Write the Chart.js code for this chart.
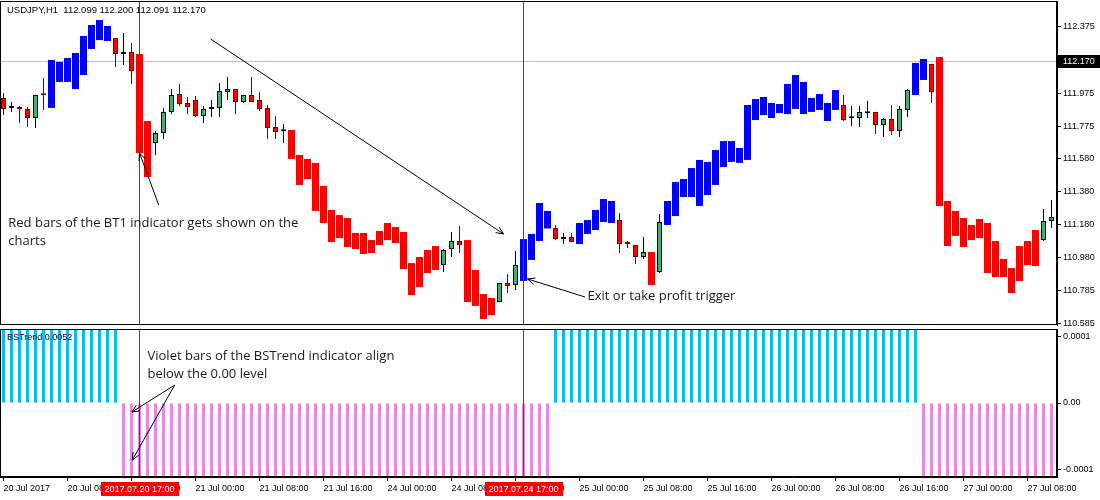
<!DOCTYPE html>
<html>
<head>
<meta charset="utf-8">
<title>USDJPY H1 - BT1 / BSTrend</title>
<script src="https://cdn.jsdelivr.net/npm/chart.js@4.4.1/dist/chart.umd.min.js"></script>
<style>
  html, body { margin: 0; padding: 0; background: #fff; }
  #wrap { position: relative; width: 1100px; height: 500px; }
  #priceBox { position: absolute; left: 0; top: 0; width: 1100px; height: 327px; }
  #trendBox { position: absolute; left: 0; top: 327px; width: 1100px; height: 173px; }
</style>
</head>
<body>
<div id="wrap">
  <div id="priceBox"><canvas id="priceChart"></canvas></div>
  <div id="trendBox"><canvas id="trendChart"></canvas></div>
</div>
<script>
// ---- data (hourly bars, 20 Jul 2017 00:00 -> 27 Jul 2017 11:00, weekend skipped) ----

// c = plain candle, B = blue BT1 bar, R = red BT1 bar
const bt1Kind = [
  "cccccc", "BBBBBBBB", "ccc", "RR", "ccccccccccccccccc", "RRRRRRRRRRRRRRRRRRR",
  "ccc", "RRRR", "ccc", "BBBB", "ccc", "BBBBB", "cccc", "R", "c",
  "BBBBBBBBBBBBBBBBBBBBBB", "ccccccccc", "BB", "c", "RRRRRRRRRRRRR", "cc",
].join("").split("");

const open = [
  111.946, 111.885, 111.892, 111.880, 111.825, 111.965, 111.886, 112.043, 112.043, 112.000,
  112.085, 112.242, 112.296, 112.290, 112.308, 112.212, 112.224, 112.212, 111.807, 111.674,
  111.735, 111.862, 111.970, 111.916, 111.934, 111.837, 111.879, 111.886, 111.982, 112.000,
  111.922, 111.964, 111.934, 111.886, 111.771, 111.746, 111.753, 111.602, 111.578, 111.554,
  111.415, 111.270, 111.239, 111.221, 111.131, 111.131, 111.088, 111.143, 111.191, 111.167,
  111.137, 110.949, 110.986, 111.028, 111.052, 110.937, 111.034, 111.082, 111.088, 110.907,
  110.762, 110.738, 110.714, 110.829, 110.817, 110.841, 110.968, 111.082, 111.158, 111.161,
  111.094, 111.106, 111.064, 111.125, 111.149, 111.197, 111.191, 111.209, 111.065, 111.058,
  110.986, 111.016, 110.895, 111.179, 111.233, 111.348, 111.348, 111.294, 111.360, 111.421,
  111.529, 111.560, 111.554, 111.572, 111.813, 111.843, 111.825, 111.855, 111.849, 111.880,
  111.849, 111.862, 111.874, 111.807, 111.874, 111.904, 111.824, 111.825, 111.854, 111.862,
  111.783, 111.819, 111.747, 111.874, 111.964, 112.055, 112.151, 112.194, 111.324, 111.264,
  111.221, 111.179, 111.215, 111.191, 111.082, 110.974, 110.919, 111.052, 111.082, 111.149,
  111.088, 111.203,
];
const high = [
  111.976, 111.922, 111.898, 111.892, 111.964, 112.067, 112.176, 112.164, 112.188, 112.218,
  112.321, 112.387, 112.417, 112.381, 112.308, 112.339, 112.278, 112.212, 111.807, 111.747,
  111.886, 112.000, 112.031, 111.952, 111.958, 111.898, 111.934, 112.037, 112.073, 112.000,
  111.964, 112.073, 111.982, 111.904, 111.837, 111.789, 111.753, 111.602, 111.578, 111.554,
  111.415, 111.270, 111.239, 111.221, 111.131, 111.131, 111.088, 111.143, 111.191, 111.167,
  111.137, 110.949, 110.986, 111.028, 111.052, 111.034, 111.137, 111.173, 111.088, 110.907,
  110.762, 110.738, 110.829, 110.883, 111.022, 111.094, 111.125, 111.312, 111.264, 111.179,
  111.131, 111.131, 111.191, 111.209, 111.270, 111.336, 111.324, 111.252, 111.082, 111.058,
  111.107, 111.016, 111.245, 111.324, 111.439, 111.457, 111.523, 111.572, 111.560, 111.632,
  111.686, 111.686, 111.644, 111.904, 111.940, 111.952, 111.916, 111.910, 112.031, 112.085,
  112.043, 111.946, 111.970, 111.916, 111.994, 111.964, 111.898, 111.898, 111.928, 111.862,
  111.825, 111.904, 111.898, 112.000, 112.158, 112.182, 112.151, 112.194, 111.324, 111.264,
  111.221, 111.179, 111.215, 111.191, 111.082, 110.974, 110.919, 111.052, 111.082, 111.149,
  111.276, 111.330,
];
const low = [
  111.843, 111.862, 111.795, 111.771, 111.765, 111.874, 111.886, 112.043, 112.043, 112.000,
  112.085, 112.242, 112.296, 112.290, 112.133, 112.145, 112.031, 111.614, 111.469, 111.602,
  111.698, 111.849, 111.898, 111.849, 111.831, 111.795, 111.831, 111.831, 111.934, 111.849,
  111.916, 111.922, 111.868, 111.698, 111.698, 111.674, 111.578, 111.421, 111.457, 111.264,
  111.191, 111.076, 111.100, 111.046, 111.034, 111.004, 111.010, 111.058, 111.088, 111.070,
  110.913, 110.756, 110.804, 110.889, 110.907, 110.895, 110.986, 111.010, 110.714, 110.690,
  110.611, 110.635, 110.714, 110.768, 110.786, 110.841, 110.968, 111.082, 111.158, 111.088,
  111.064, 111.076, 111.064, 111.125, 111.149, 111.197, 111.191, 111.010, 111.040, 110.943,
  110.974, 110.817, 110.889, 111.179, 111.233, 111.348, 111.348, 111.294, 111.360, 111.421,
  111.529, 111.560, 111.554, 111.572, 111.813, 111.843, 111.825, 111.855, 111.849, 111.880,
  111.849, 111.862, 111.874, 111.807, 111.874, 111.807, 111.777, 111.771, 111.825, 111.729,
  111.710, 111.723, 111.710, 111.831, 111.964, 112.055, 111.916, 111.294, 111.052, 111.113,
  111.046, 111.088, 111.100, 110.889, 110.865, 110.865, 110.768, 110.841, 110.937, 110.931,
  111.082, 111.161,
];
const close = [
  111.880, 111.886, 111.880, 111.825, 111.964, 111.963, 112.176, 112.164, 112.188, 112.218,
  112.321, 112.387, 112.417, 112.381, 112.212, 112.224, 112.109, 111.614, 111.469, 111.735,
  111.862, 111.964, 111.910, 111.892, 111.837, 111.880, 111.880, 111.988, 112.000, 111.922,
  111.964, 111.922, 111.880, 111.765, 111.741, 111.747, 111.578, 111.421, 111.457, 111.264,
  111.191, 111.076, 111.100, 111.046, 111.034, 111.004, 111.010, 111.058, 111.088, 111.070,
  110.913, 110.756, 110.804, 110.889, 110.907, 111.028, 111.082, 111.058, 110.714, 110.690,
  110.611, 110.635, 110.829, 110.811, 110.937, 111.094, 111.125, 111.312, 111.264, 111.094,
  111.106, 111.076, 111.191, 111.209, 111.270, 111.336, 111.324, 111.064, 111.064, 110.986,
  111.016, 110.817, 111.197, 111.324, 111.439, 111.457, 111.523, 111.572, 111.560, 111.632,
  111.686, 111.686, 111.644, 111.904, 111.940, 111.952, 111.916, 111.910, 112.031, 112.085,
  112.043, 111.946, 111.970, 111.916, 111.994, 111.813, 111.825, 111.862, 111.855, 111.783,
  111.819, 111.747, 111.880, 111.994, 112.158, 112.182, 111.982, 111.294, 111.052, 111.113,
  111.046, 111.088, 111.100, 110.889, 110.865, 110.865, 110.768, 110.841, 110.937, 110.931,
  111.203, 111.227,
];

// BSTrend histogram (clipped at the panel edges)
const U = 0.000112, D = -0.000112;
const bsTrend = [
  U, U, U, U, U, U, U, U, U, U, U, U, U, U, U, D, D, D, D, D,
  D, D, D, D, D, D, D, D, D, D, D, D, D, D, D, D, D, D, D, D,
  D, D, D, D, D, D, D, D, D, D, D, D, D, D, D, D, D, D, D, D,
  D, D, D, D, D, D, D, D, D, U, U, U, U, U, U, U, U, U, U, U,
  U, U, U, U, U, U, U, U, U, U, U, U, U, U, U, U, U, U, U, U,
  U, U, U, U, U, U, U, U, U, U, U, U, U, U, U, D, D, D, D, D,
  D, D, D, D, D, D, D, D, D, D, D, D,
];

const priceTicks = [112.375, 111.975, 111.775, 111.580, 111.380, 111.180, 110.980, 110.785, 110.585];
const bidPrice = 112.170;
const trendTicks = [0.0001, 0, -0.0001];
const timeTickBars = [0, 8, 16, 24, 32, 40, 48, 56, 64, 72, 80, 88, 96, 104, 112, 120, 128];
const timeTickLabels = [
  "20 Jul 2017", "20 Jul 08:00", "20 Jul 16:00", "21 Jul 00:00", "21 Jul 08:00", "21 Jul 16:00",
  "24 Jul 00:00", "24 Jul 08:00", "24 Jul 16:00", "25 Jul 00:00", "25 Jul 08:00", "25 Jul 16:00",
  "26 Jul 00:00", "26 Jul 08:00", "26 Jul 16:00", "27 Jul 00:00", "27 Jul 08:00",
];
const markerBars = [17, 65];
const markerLabels = ["2017.07.20 17:00", "2017.07.24 17:00"];

const headerText = "USDJPY,H1  112.099 112.200 112.091 112.170";
const trendTitle = "BSTrend 0.0052";

// callouts, positioned as [bar, value]
const bt1Note = ["Red bars of the BT1 indicator gets shown on the", "charts"];
const bt1NoteAt = [0.6, 111.191];
const bt1Arrow = [[19.4, 111.300], [17.0, 111.614]];
const trendArrow = [[25.9, 112.302], [62.5, 111.125]];
const exitNote = "Exit or take profit trigger";
const exitNoteAt = [73.0, 110.746];
const exitArrow = [[72.7, 110.744], [65.5, 110.853]];
const bsNote = ["Violet bars of the BSTrend indicator align", "below the 0.00 level"];
const bsNoteAt = [18.0, 0.0000705];
const bsArrows = [
  [[21.4, 0.0000272], [16.05, -0.0000136]],
  [[21.4, 0.0000272], [16.1, -0.0000863]],
];

// ---- styles ----
const GREEN = "#3cb371", RED = "#ff0000", BLUE = "#0000ff", MAROON = "#800000";
const CYAN = "#00bfff", VIOLET = "#ee82ee";
const AXIS_FONT = "9px 'Liberation Sans', Arial, sans-serif";
const HEADER_FONT = "9.5px 'Liberation Sans', Arial, sans-serif";
const NOTE_FONT = "13px 'Open Sans', sans-serif";
const X_MIN = -0.4375, X_MAX = 131.6875;

Chart.defaults.font.family = "'Liberation Sans', Arial, sans-serif";
Chart.defaults.font.size = 9;
Chart.defaults.color = "#000";

const candleIdx = [], blockIdx = [];
bt1Kind.forEach((k, i) => (k === "c" ? candleIdx : blockIdx).push(i));
const isUp = (i) => close[i] >= open[i];

function noPadding(s) {
  s.paddingTop = 0; s.paddingBottom = 0; s.paddingLeft = 0; s.paddingRight = 0;
}

function xScale(show) {
  return {
    type: "linear",
    display: show,
    min: X_MIN,
    max: X_MAX,
    offset: false,
    afterBuildTicks: (s) => { s.ticks = timeTickBars.map((v) => ({ value: v })); },
    afterFit: (s) => { noPadding(s); if (show) s.height = 23; },
    grid: { offset: false, drawOnChartArea: false, drawTicks: true, tickLength: 4, color: "#000" },
    border: { display: true, color: "#000" },
    ticks: {
      autoSkip: false, maxRotation: 0, align: "start", padding: 2,
      callback: (v, i) => timeTickLabels[i],
    },
  };
}

function drawArrow(ctx, x1, y1, x2, y2) {
  const ang = Math.atan2(y2 - y1, x2 - x1), len = 8, spread = 0.42;
  ctx.beginPath();
  ctx.moveTo(x1, y1);
  ctx.lineTo(x2, y2);
  ctx.moveTo(x2 - len * Math.cos(ang - spread), y2 - len * Math.sin(ang - spread));
  ctx.lineTo(x2, y2);
  ctx.lineTo(x2 - len * Math.cos(ang + spread), y2 - len * Math.sin(ang + spread));
  ctx.stroke();
}

function arrowAt(chart, pts) {
  const { x, y } = chart.scales;
  drawArrow(chart.ctx,
    x.getPixelForValue(pts[0][0]), y.getPixelForValue(pts[0][1]),
    x.getPixelForValue(pts[1][0]), y.getPixelForValue(pts[1][1]));
}

function noteAt(chart, lines, at) {
  const { ctx, scales: { x, y } } = chart;
  const px = x.getPixelForValue(at[0]), py = y.getPixelForValue(at[1]);
  lines.forEach((t, k) => ctx.fillText(t, px, py + k * 18));
}

function drawMarkers(chart) {
  const { ctx, chartArea: a, scales: { x } } = chart;
  ctx.save();
  ctx.strokeStyle = RED;
  ctx.lineWidth = 1;
  markerBars.forEach((b) => {
    const px = Math.floor(x.getPixelForValue(b)) + 0.5;
    ctx.beginPath();
    ctx.moveTo(px, a.top);
    ctx.lineTo(px, a.bottom);
    ctx.stroke();
  });
  ctx.restore();
}

function drawFrame(chart) {
  const { ctx, chartArea: a } = chart;
  ctx.save();
  ctx.strokeStyle = "#000";
  ctx.lineWidth = 1;
  ctx.strokeRect(a.left + 0.5, a.top + 0.5, a.width - 1, a.height - 1);
  ctx.restore();
}

// price panel extras: bid line, vertical markers, callouts, header, bid label
const pricePanel = {
  id: "pricePanel",
  beforeDatasetsDraw(chart) {
    const { ctx, chartArea: a, scales: { y } } = chart;
    const yb = Math.round(y.getPixelForValue(bidPrice)) + 0.5;
    ctx.save();
    ctx.strokeStyle = "#c0c0c0";
    ctx.beginPath();
    ctx.moveTo(a.left, yb);
    ctx.lineTo(a.right, yb);
    ctx.stroke();
    ctx.restore();
  },
  afterDatasetsDraw(chart) {
    const ctx = chart.ctx;
    drawMarkers(chart);
    ctx.save();
    ctx.strokeStyle = "#000";
    ctx.lineWidth = 1;
    arrowAt(chart, trendArrow);
    arrowAt(chart, bt1Arrow);
    arrowAt(chart, exitArrow);
    ctx.fillStyle = "#1a1a1a";
    ctx.font = NOTE_FONT;
    ctx.textBaseline = "middle";
    noteAt(chart, bt1Note, bt1NoteAt);
    noteAt(chart, [exitNote], exitNoteAt);
    ctx.restore();
  },
  afterDraw(chart) {
    const { ctx, chartArea: a, scales: { y } } = chart;
    drawFrame(chart);
    ctx.save();
    ctx.font = HEADER_FONT;
    ctx.textBaseline = "middle";
    ctx.fillStyle = "#000";
    ctx.fillText(headerText, a.left + 7, a.top + 9);
    ctx.font = AXIS_FONT;
    const yb = Math.round(y.getPixelForValue(bidPrice));
    ctx.fillRect(a.right + 1, yb - 6, chart.width - a.right - 1, 13);
    ctx.fillStyle = "#fff";
    ctx.fillText(bidPrice.toFixed(3), a.right + 6, yb + 0.5);
    ctx.restore();
  },
};

// indicator panel extras: title, markers, callout, time labels of the markers
const trendPanel = {
  id: "trendPanel",
  afterDatasetsDraw(chart) {
    const { ctx, chartArea: a } = chart;
    drawMarkers(chart);
    ctx.save();
    ctx.font = AXIS_FONT;
    ctx.textBaseline = "middle";
    ctx.fillStyle = "#000";
    ctx.fillText(trendTitle, a.left + 7, a.top + 9);
    ctx.strokeStyle = "#000";
    bsArrows.forEach((p) => arrowAt(chart, p));
    ctx.fillStyle = "#1a1a1a";
    ctx.font = NOTE_FONT;
    noteAt(chart, bsNote, bsNoteAt);
    ctx.restore();
  },
  afterDraw(chart) {
    const { ctx, chartArea: a, scales: { x } } = chart;
    drawFrame(chart);
    ctx.save();
    ctx.font = AXIS_FONT;
    ctx.textBaseline = "middle";
    ctx.textAlign = "center";
    markerBars.forEach((b, k) => {
      const px = Math.floor(x.getPixelForValue(b)) + 0.5;
      const w = Math.round(ctx.measureText(markerLabels[k]).width) + 8;
      ctx.fillStyle = RED;
      ctx.fillRect(Math.round(px - w / 2), a.bottom + 5, w, 14);
      ctx.fillStyle = "#fff";
      ctx.fillText(markerLabels[k], px, a.bottom + 12.5);
    });
    ctx.restore();
  },
};

new Chart(document.getElementById("priceChart"), {
  type: "bar",
  data: {
    datasets: [
      {
        label: "body",
        data: candleIdx.map((i) => ({ x: i, y: [open[i], close[i]] })),
        backgroundColor: (c) => (c.raw && !isUp(c.raw.x) ? RED : GREEN),
        borderColor: (c) => (c.raw && !isUp(c.raw.x) ? MAROON : "#000"),
        borderWidth: 1,
        borderSkipped: false,
        barThickness: 5,
        minBarLength: 2,
        grouped: false,
        inflateAmount: 0,
      },
      {
        label: "wick",
        data: candleIdx.map((i) => ({ x: i, y: [low[i], high[i]] })),
        backgroundColor: (c) => (c.raw && !isUp(c.raw.x) ? MAROON : "#000"),
        borderWidth: 0,
        barThickness: 1,
        grouped: false,
        inflateAmount: 0,
      },
      {
        label: "BT1",
        data: blockIdx.map((i) => ({ x: i, y: [open[i], close[i]] })),
        backgroundColor: (c) => (c.raw && bt1Kind[c.raw.x] === "B" ? BLUE : RED),
        borderWidth: 0,
        barThickness: 7,
        grouped: false,
        inflateAmount: 0,
      },
    ],
  },
  options: {
    responsive: true,
    maintainAspectRatio: false,
    animation: false,
    events: [],
    layout: { padding: { top: 1, bottom: 2, left: 0, right: 0 } },
    plugins: { legend: { display: false }, tooltip: { enabled: false } },
    scales: {
      x: xScale(false),
      y: {
        position: "right",
        min: 110.575,
        max: 112.532,
        afterBuildTicks: (s) => { s.ticks = priceTicks.map((v) => ({ value: v })); },
        afterFit: (s) => { noPadding(s); s.width = 43; },
        grid: { drawOnChartArea: false, drawTicks: true, tickLength: 4, color: "#000" },
        border: { display: true, color: "#000" },
        ticks: { padding: 2, callback: (v) => v.toFixed(3) },
      },
    },
  },
  plugins: [pricePanel],
});

new Chart(document.getElementById("trendChart"), {
  type: "bar",
  data: {
    datasets: [
      {
        label: "BSTrend",
        data: bsTrend.map((v, i) => ({ x: i, y: v })),
        backgroundColor: (c) => (c.raw && c.raw.y < 0 ? VIOLET : CYAN),
        borderWidth: 0,
        barThickness: 3,
        grouped: false,
        inflateAmount: 0,
      },
    ],
  },
  options: {
    responsive: true,
    maintainAspectRatio: false,
    animation: false,
    events: [],
    layout: { padding: { top: 2, bottom: 0, left: 0, right: 0 } },
    plugins: { legend: { display: false }, tooltip: { enabled: false } },
    scales: {
      x: xScale(true),
      y: {
        position: "right",
        min: -0.000112,
        max: 0.000112,
        afterBuildTicks: (s) => { s.ticks = trendTicks.map((v) => ({ value: v })); },
        afterFit: (s) => { noPadding(s); s.width = 43; },
        grid: { drawOnChartArea: false, drawTicks: true, tickLength: 4, color: "#000" },
        border: { display: true, color: "#000" },
        ticks: {
          padding: 2,
          callback: (v) => (v > 0 ? "0.0001" : v < 0 ? "-0.0001" : "0.00"),
        },
      },
    },
  },
  plugins: [trendPanel],
});
</script>
</body>
</html>
